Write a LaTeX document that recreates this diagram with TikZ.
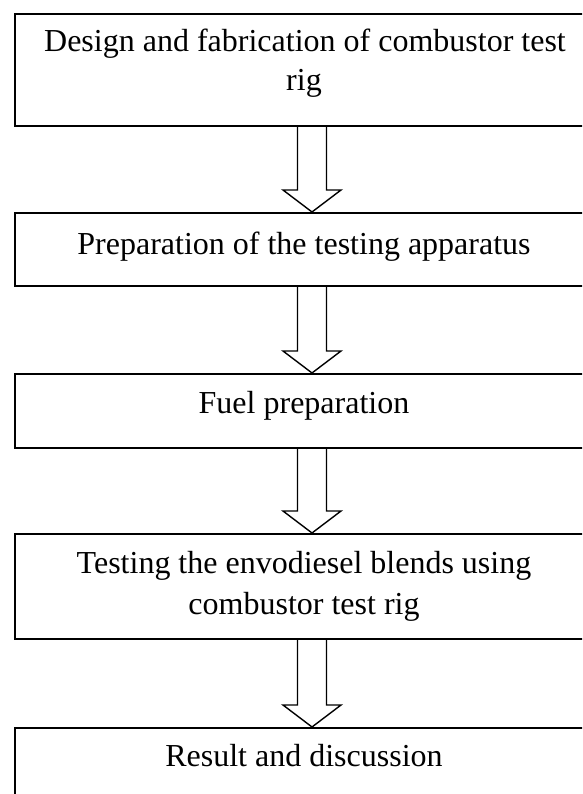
\documentclass[tikz,border=0pt]{standalone}
\usepackage{fontspec}
\setmainfont{Liberation Serif}
\usetikzlibrary{calc}
\newcommand{\hollowarrow}[2]{%
  \draw[hollow]
    ($(#1.south -| axis)+(-14.5,0)$) --
    ($(#2.north -| axis)+(-14.5,-22)$) --
    ($(#2.north -| axis)+(-29,-22)$) --
    (#2.north -| axis) --
    ($(#2.north -| axis)+(29,-22)$) --
    ($(#2.north -| axis)+(14.5,-22)$) --
    ($(#1.south -| axis)+(14.5,0)$);}
\begin{document}
\begin{tikzpicture}[x=1pt,y=-1pt,
  stepbox/.style={draw,line width=1.8pt,rectangle,minimum width=580pt,inner sep=0pt,anchor=north west},
  lbl/.style={anchor=base,inner sep=0pt,font=\fontsize{32}{40}\selectfont},
  hollow/.style={draw,line width=1.4pt,line join=miter}]
\useasboundingbox (0,0) rectangle (582,794);
\clip (0,0) rectangle (582,794);
\coordinate (axis) at (312,0);
\node[stepbox,minimum height=112pt] (b1) at (14,13) {};
\node[stepbox,minimum height=73pt] (b2) at (14,212) {};
\node[stepbox,minimum height=74pt] (b3) at (14,373) {};
\node[stepbox,minimum height=105pt] (b4) at (14,533) {};
\node[stepbox,minimum height=100pt] (b5) at (14,727) {};
\node[lbl] (t1a) at (305,52) {Design and fabrication of combustor test};
\node[lbl] (t1b) at (304,91) {rig};
\node[lbl] (t2) at (304,254) {Preparation of the testing apparatus};
\node[lbl] (t3) at (304,413) {Fuel preparation};
\node[lbl] (t4a) at (304,573) {Testing the envodiesel blends using};
\node[lbl] (t4b) at (304,614) {combustor test rig};
\node[lbl] (t5) at (304,766) {Result and discussion};
\hollowarrow{b1}{b2}
\hollowarrow{b2}{b3}
\hollowarrow{b3}{b4}
\hollowarrow{b4}{b5}
\end{tikzpicture}
\end{document}
